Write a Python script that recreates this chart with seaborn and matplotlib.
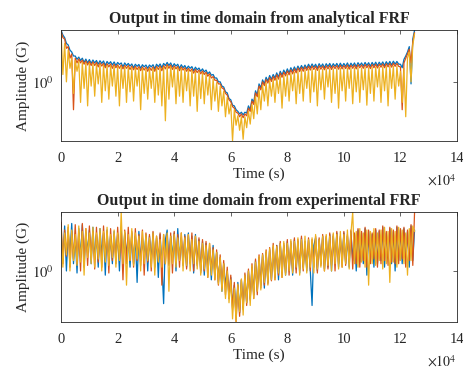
import numpy as np
import matplotlib
matplotlib.use("Agg")
import matplotlib.pyplot as plt
import seaborn as sns
from matplotlib.ticker import NullLocator

# tiempo (s), un punto cada 625 s
t = np.arange(201) * 625

# salida con FRF analitica
top_blue = [3.6, 3.2, 3.0, 2.6, 2.5, 2.2, 2.1, 1.9, 1.9, 1.75,
            1.85, 1.7, 1.8, 1.62, 1.76, 1.6, 1.74, 1.58, 1.72, 1.6,
            1.7, 1.55, 1.69, 1.58, 1.68, 1.5, 1.66, 1.56, 1.65, 1.52,
            1.64, 1.5, 1.62, 1.54, 1.6, 1.45, 1.6, 1.5, 1.58, 1.48,
            1.56, 1.42, 1.55, 1.47, 1.54, 1.4, 1.53, 1.45, 1.52, 1.4,
            1.52, 1.45, 1.53, 1.38, 1.55, 1.46, 1.56, 1.42, 1.58, 1.5,
            1.62, 1.5, 1.6, 1.45, 1.57, 1.48, 1.55, 1.4, 1.53, 1.42,
            1.5, 1.38, 1.48, 1.4, 1.46, 1.32, 1.44, 1.35, 1.41, 1.3,
            1.38, 1.28, 1.34, 1.22, 1.28, 1.18, 1.2, 1.1, 1.1, 1.0,
            1.0, 0.9, 0.88, 0.78, 0.76, 0.66, 0.64, 0.56, 0.55, 0.5,
            0.48, 0.45, 0.47, 0.44, 0.47, 0.46, 0.55, 0.5, 0.65, 0.6,
            0.8, 0.72, 0.95, 0.86, 1.05, 0.95, 1.12, 1.02, 1.17, 1.06,
            1.2, 1.1, 1.25, 1.12, 1.3, 1.18, 1.34, 1.22, 1.38, 1.25,
            1.42, 1.3, 1.45, 1.32, 1.48, 1.36, 1.5, 1.38, 1.52, 1.4,
            1.55, 1.42, 1.56, 1.44, 1.55, 1.4, 1.57, 1.45, 1.56, 1.42,
            1.57, 1.46, 1.58, 1.44, 1.57, 1.47, 1.58, 1.45, 1.59, 1.46,
            1.58, 1.47, 1.6, 1.45, 1.59, 1.48, 1.6, 1.46, 1.61, 1.5,
            1.6, 1.48, 1.62, 1.5, 1.61, 1.47, 1.62, 1.5, 1.63, 1.49,
            1.63, 1.52, 1.64, 1.5, 1.65, 1.53, 1.66, 1.52, 1.67, 1.55,
            1.66, 1.55, 1.55, 1.42, 1.75, 1.9, 2.1, 2.4, 0.95, 2.9,
            3.6]
top_orange = [3.5, 3.0, 2.9, 2.3, 2.4, 1.8, 2.0, 0.5, 1.8, 1.6,
              1.77, 1.6, 1.72, 1.55, 1.68, 1.52, 1.66, 1.5, 1.64, 1.5,
              1.62, 1.45, 1.6, 1.48, 1.59, 1.42, 1.57, 1.45, 1.56, 1.4,
              1.55, 1.42, 1.53, 1.4, 1.52, 1.38, 1.51, 1.4, 1.5, 1.36,
              1.48, 1.35, 1.47, 1.36, 1.46, 1.32, 1.45, 1.34, 1.44, 1.3,
              1.44, 1.33, 1.45, 1.3, 1.47, 1.36, 1.48, 1.32, 1.5, 1.38,
              1.54, 1.4, 1.52, 1.36, 1.49, 1.38, 1.47, 1.32, 1.45, 1.34,
              1.42, 1.3, 1.4, 1.3, 1.38, 1.24, 1.36, 1.26, 1.34, 1.22,
              1.31, 1.2, 1.27, 1.15, 1.22, 1.1, 1.14, 1.04, 1.04, 0.95,
              0.95, 0.86, 0.84, 0.75, 0.72, 0.64, 0.61, 0.54, 0.52, 0.47,
              0.46, 0.42, 0.45, 0.41, 0.45, 0.43, 0.52, 0.48, 0.62, 0.57,
              0.76, 0.69, 0.9, 0.82, 1.0, 0.91, 1.06, 0.97, 1.11, 1.01,
              1.14, 1.04, 1.19, 1.07, 1.24, 1.12, 1.27, 1.16, 1.31, 1.19,
              1.35, 1.22, 1.38, 1.25, 1.41, 1.29, 1.43, 1.3, 1.45, 1.33,
              1.47, 1.34, 1.48, 1.36, 1.47, 1.33, 1.49, 1.37, 1.48, 1.35,
              1.49, 1.38, 1.5, 1.36, 1.49, 1.39, 1.5, 1.37, 1.51, 1.38,
              1.5, 1.39, 1.52, 1.37, 1.51, 1.4, 1.52, 1.38, 1.53, 1.42,
              1.52, 1.4, 1.54, 1.42, 1.53, 1.39, 1.54, 1.42, 1.55, 1.41,
              1.55, 1.44, 1.56, 1.42, 1.57, 1.45, 1.58, 1.44, 1.59, 1.47,
              1.58, 1.47, 1.45, 0.5, 1.6, 1.8, 2.0, 2.25, 1.6, 2.7,
              3.4]
top_yellow = [3.3, 1.2, 2.6, 1.0, 2.2, 1.4, 1.8, 0.75, 1.7, 1.3,
              1.66, 0.6, 1.62, 0.85, 1.6, 0.55, 1.58, 0.9, 1.56, 0.7,
              1.54, 0.95, 1.53, 0.6, 1.52, 0.8, 1.5, 0.65, 1.49, 0.9,
              1.48, 0.7, 1.47, 0.55, 1.46, 0.85, 1.45, 0.6, 1.44, 0.78,
              1.42, 0.62, 1.41, 0.9, 1.4, 0.5, 1.39, 0.75, 1.38, 0.65,
              1.38, 0.85, 1.39, 0.6, 1.41, 0.72, 1.42, 0.55, 1.44, 0.38,
              1.47, 0.65, 1.45, 0.88, 1.43, 0.58, 1.41, 0.7, 1.39, 0.6,
              1.36, 0.8, 1.34, 0.55, 1.32, 0.7, 1.3, 0.48, 1.28, 0.66,
              1.25, 0.58, 1.21, 0.72, 1.16, 0.5, 1.08, 0.62, 0.98, 0.48,
              0.9, 0.55, 0.79, 0.42, 0.68, 0.45, 0.57, 0.23, 0.5, 0.34,
              0.43, 0.3, 0.42, 0.24, 0.42, 0.32, 0.48, 0.35, 0.57, 0.4,
              0.7, 0.45, 0.82, 0.5, 0.92, 0.62, 0.98, 0.55, 1.03, 0.7,
              1.06, 0.6, 1.1, 0.75, 1.14, 0.52, 1.17, 0.7, 1.2, 0.62,
              1.24, 0.8, 1.27, 0.58, 1.3, 0.75, 1.32, 0.62, 1.34, 0.85,
              1.36, 0.6, 1.37, 0.78, 1.36, 0.55, 1.38, 0.82, 1.37, 0.65,
              1.38, 0.88, 1.39, 0.6, 1.38, 0.75, 1.39, 0.52, 1.4, 0.8,
              1.39, 0.62, 1.41, 0.85, 1.4, 0.58, 1.41, 0.78, 1.42, 0.6,
              1.41, 0.82, 1.43, 0.56, 1.42, 0.75, 1.43, 0.62, 1.44, 0.88,
              1.44, 0.6, 1.45, 0.8, 1.46, 0.55, 1.47, 0.85, 1.48, 0.65,
              1.47, 0.9, 1.3, 0.6, 1.4, 0.42, 1.8, 2.1, 1.0, 2.5,
              3.3]

# salida con FRF experimental
bot_blue = [2.6, 1.3, 3.1, 1.0, 2.7, 1.5, 3.3, 1.2, 2.4, 0.95,
            2.9, 1.4, 3.2, 1.1, 2.6, 1.6, 2.8, 1.2, 3.0, 1.35,
            2.5, 1.1, 2.9, 1.5, 2.6, 0.9, 2.8, 1.3, 2.4, 1.2,
            2.7, 1.4, 2.5, 1.0, 2.9, 1.3, 2.6, 1.5, 2.3, 1.1,
            2.6, 1.2, 2.4, 0.75, 2.7, 1.3, 2.3, 1.4, 2.5, 1.0,
            2.4, 1.3, 2.6, 1.1, 2.3, 0.85, 2.5, 1.2, 0.44, 2.2,
            2.8, 1.2, 2.4, 1.4, 2.6, 1.0, 2.9, 1.3, 2.3, 1.15,
            2.5, 1.1, 2.6, 1.25, 2.4, 0.95, 2.5, 1.2, 2.2, 1.0,
            2.1, 0.9, 2.0, 1.1, 1.8, 0.8, 1.9, 0.9, 1.6, 0.75,
            1.4, 0.6, 1.2, 0.7, 1.0, 0.5, 0.85, 0.4, 0.7, 0.33,
            0.75, 0.35, 0.8, 0.4, 0.9, 0.45, 1.0, 0.5, 1.1, 0.55,
            1.3, 0.6, 1.4, 0.7, 1.5, 0.65, 1.6, 0.75, 1.7, 0.8,
            1.8, 0.85, 1.9, 0.8, 2.0, 0.95, 1.9, 0.9, 2.1, 1.0,
            2.0, 0.9, 2.2, 1.05, 2.1, 0.95, 2.3, 1.1, 2.0, 1.0,
            2.2, 1.0, 0.42, 1.9, 2.3, 1.0, 2.2, 1.2, 2.4, 1.05,
            2.3, 1.1, 2.5, 1.0, 2.4, 1.2, 2.6, 1.1, 2.3, 1.3,
            2.6, 1.2, 2.4, 1.1, 2.7, 1.3, 2.5, 1.0, 2.8, 1.25,
            2.6, 1.2, 2.9, 0.9, 2.7, 1.3, 2.5, 1.1, 2.8, 1.2,
            2.7, 1.3, 3.0, 1.1, 2.6, 1.4, 2.9, 1.2, 2.7, 1.0,
            3.0, 1.3, 2.8, 1.2, 2.9, 1.4, 2.7, 1.1, 3.1, 1.3,
            2.8]
bot_orange = [3.4, 1.2, 2.8, 1.45, 3.0, 1.1, 2.7, 1.35, 3.2, 1.2,
              2.6, 1.0, 3.3, 1.3, 2.9, 1.15, 3.1, 1.4, 2.7, 1.05,
              3.0, 1.25, 2.6, 1.1, 3.1, 1.4, 2.7, 0.95, 2.9, 1.3,
              2.5, 1.2, 3.0, 1.35, 2.6, 0.8, 2.8, 1.2, 3.0, 1.3,
              2.7, 1.1, 2.9, 1.3, 2.5, 1.15, 2.8, 0.9, 2.6, 1.25,
              2.5, 1.0, 2.7, 1.2, 2.4, 1.3, 2.6, 0.7, 2.5, 1.2,
              2.4, 1.15, 2.6, 0.95, 2.7, 1.25, 2.5, 1.1, 2.6, 1.2,
              2.4, 1.05, 2.5, 1.2, 2.6, 1.0, 2.4, 1.15, 2.3, 0.95,
              2.2, 1.0, 2.1, 0.85, 2.0, 1.0, 1.8, 0.8, 1.7, 0.7,
              1.5, 0.65, 1.3, 0.55, 1.1, 0.5, 0.9, 0.38, 0.75, 0.28,
              0.7, 0.32, 0.8, 0.38, 0.95, 0.42, 1.05, 0.48, 1.2, 0.5,
              1.35, 0.55, 1.5, 0.65, 1.55, 0.7, 1.7, 0.72, 1.8, 0.78,
              2.0, 0.8, 1.9, 0.9, 2.1, 0.85, 2.0, 0.95, 2.2, 0.9,
              2.1, 1.0, 2.3, 0.95, 2.2, 1.05, 2.4, 1.0, 2.1, 1.1,
              2.3, 1.0, 2.2, 1.1, 2.4, 0.95, 2.3, 1.15, 2.5, 1.0,
              2.4, 1.05, 2.6, 1.15, 2.5, 1.0, 2.7, 1.2, 2.4, 1.1,
              2.7, 1.15, 2.5, 1.25, 2.8, 1.05, 2.6, 1.2, 2.9, 1.1,
              2.7, 1.3, 3.0, 1.1, 2.8, 1.2, 2.6, 1.35, 2.9, 1.1,
              2.8, 1.2, 3.1, 1.3, 2.7, 1.15, 3.0, 1.25, 2.8, 1.2,
              3.1, 1.2, 2.9, 1.35, 3.0, 1.1, 2.8, 1.3, 3.2, 1.15,
              4.4]
bot_yellow = [3.0, 1.1, 2.6, 1.5, 3.2, 1.0, 2.8, 1.3, 2.5, 1.15,
              3.1, 1.25, 2.7, 0.9, 2.9, 1.4, 2.6, 1.2, 3.0, 1.1,
              2.6, 1.35, 2.9, 1.0, 2.7, 1.25, 3.0, 1.15, 2.5, 1.4,
              2.8, 1.1, 2.6, 1.3, 4.4, 1.2, 2.7, 0.7, 2.5, 1.3,
              2.9, 1.15, 2.6, 1.35, 2.4, 1.0, 2.7, 1.2, 2.5, 1.3,
              2.3, 1.1, 2.6, 0.9, 2.4, 1.25, 2.2, 1.1, 2.5, 1.2,
              2.6, 0.6, 2.4, 1.2, 2.5, 1.1, 2.3, 1.3, 2.6, 1.0,
              2.3, 1.15, 2.5, 1.0, 2.2, 1.2, 2.4, 1.05, 2.1, 0.9,
              2.0, 1.05, 1.9, 0.85, 2.0, 0.9, 1.7, 0.8, 1.6, 0.72,
              1.4, 0.6, 1.2, 0.5, 1.0, 0.45, 0.8, 0.3, 0.65, 0.28,
              0.72, 0.36, 0.82, 0.33, 0.9, 0.45, 1.0, 0.42, 1.15, 0.5,
              1.25, 0.6, 1.45, 0.62, 1.5, 0.75, 1.65, 0.7, 1.75, 0.8,
              1.9, 0.8, 1.85, 0.95, 2.0, 0.85, 2.1, 0.9, 2.0, 1.0,
              2.2, 0.95, 2.1, 1.1, 2.3, 0.9, 2.2, 1.05, 2.4, 0.95,
              2.2, 1.1, 2.3, 0.95, 2.5, 1.05, 2.2, 1.1, 2.4, 1.0,
              2.5, 1.15, 2.4, 1.0, 2.6, 1.2, 2.5, 1.05, 2.7, 1.1,
              2.5, 1.2, 2.8, 1.05, 2.6, 4.4, 1.2, 2.7, 1.1, 2.9,
              1.25, 2.6, 1.1, 2.8, 0.7, 2.7, 1.2, 2.9, 1.15, 2.6,
              1.3, 2.8, 1.05, 3.0, 1.2, 2.7, 0.75, 2.9, 1.25, 2.7,
              1.1, 3.0, 1.3, 2.8, 1.2, 2.6, 0.9, 2.9, 1.3, 3.1,
              2.7]

xticks = [0, 2, 4, 6, 8, 10, 12, 14]
colores = ["#0072BD", "#D95319", "#EDB120"]

sns.set_style("white")
plt.rcParams["font.family"] = ["Liberation Serif", "DejaVu Serif"]
plt.rcParams["mathtext.fontset"] = "stix"

fig = plt.figure(figsize=(4.63, 3.70), dpi=100)
ax1 = fig.add_axes([0.132, 0.619, 0.855, 0.300])
ax2 = fig.add_axes([0.132, 0.130, 0.855, 0.297])

paneles = [
    (ax1, [top_blue, top_orange, top_yellow], (0.23, 3.63), "Output in time domain from analytical FRF"),
    (ax2, [bot_blue, bot_orange, bot_yellow], (0.278, 4.4), "Output in time domain from experimental FRF"),
]

for ax, series, ylim, titulo in paneles:
    for vals, c in zip(series, colores):
        sns.lineplot(x=t, y=vals, ax=ax, color=c, linewidth=0.9)
    ax.set_yscale("log")
    ax.set_xlim(0, 14e4)
    ax.set_ylim(*ylim)
    ax.set_xticks([v * 1e4 for v in xticks])
    ax.set_xticklabels([str(v) for v in xticks])
    ax.set_yticks([1])
    ax.set_yticklabels(["$10^0$"])
    ax.yaxis.set_minor_locator(NullLocator())
    ax.tick_params(direction="in", top=True, right=True, length=3, width=0.5,
                   labelsize=10.5, colors="#262626")
    ax.tick_params(axis="x", pad=8)
    ax.tick_params(axis="y", pad=5)
    for s in ax.spines.values():
        s.set_linewidth(0.6)
        s.set_color("#262626")
    ax.set_title(titulo, fontsize=11.5, fontweight="bold", pad=5)
    ax.set_xlabel("Time (s)", fontsize=11, labelpad=2)
    ax.set_ylabel("Amplitude (G)", fontsize=11, labelpad=2)
    ax.text(1.0, -0.36, r"$\times 10^4$", transform=ax.transAxes, ha="right", va="center",
            fontsize=10, color="#262626")

plt.savefig("out.png", dpi=100)
